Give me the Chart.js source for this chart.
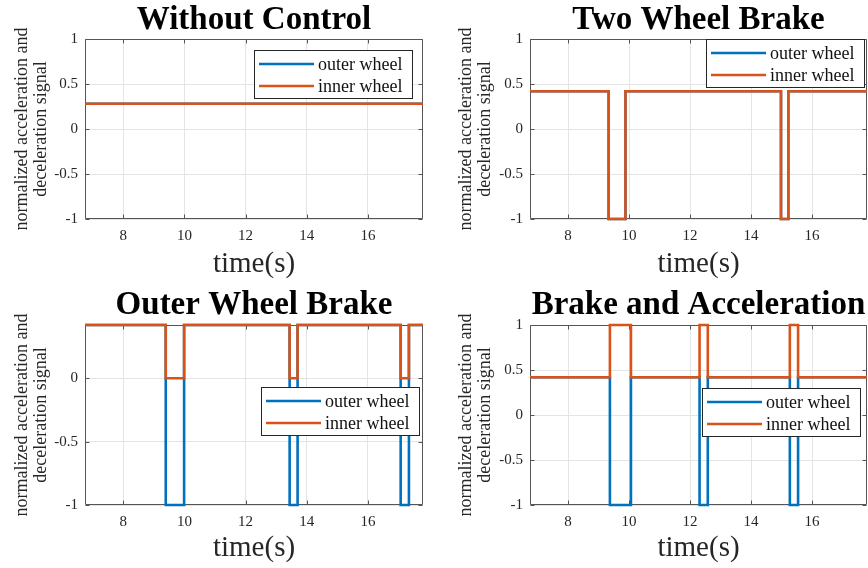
<!DOCTYPE html>
<html>
<head>
<meta charset="utf-8">
<title>Wheel acceleration / deceleration signals</title>
<script src="https://cdn.jsdelivr.net/npm/chart.js@4.4.1/dist/chart.umd.min.js"></script>
<style>
  body { margin: 0; background: #fff; }
  #wrap { position: relative; width: 868px; height: 568px; overflow: hidden; }
  .panel { position: absolute; width: 434px; height: 284px; }
</style>
</head>
<body>
<div id="wrap">
  <div class="panel" style="left:0;top:0"><canvas id="noControl" width="434" height="284"></canvas></div>
  <div class="panel" style="left:434px;top:0"><canvas id="twoBrake" width="434" height="284"></canvas></div>
  <div class="panel" style="left:0;top:284px"><canvas id="outerBrake" width="434" height="284"></canvas></div>
  <div class="panel" style="left:434px;top:284px"><canvas id="brakeAcc" width="434" height="284"></canvas></div>
</div>
<script>
// tick values
const xTicks = [8, 10, 12, 14, 16];
const yTicksFull = [-1, -0.5, 0, 0.5, 1];
const yTicksLow = [-1, -0.5, 0];
const xMin = 6.75, xMax = 17.8;

// switching times (s) and signal level from that time on
const noCtrlTime = [6.75, 17.8];
const noCtrlOuter = [0.28, 0.28];
const noCtrlInner = [0.28, 0.28];

const twoBrakeTime = [6.75, 9.33, 9.88, 14.98, 15.22, 17.8];
const twoBrakeOuter = [0.42, -1, 0.42, -1, 0.42, 0.42];
const twoBrakeInner = [0.42, -1, 0.42, -1, 0.42, 0.42];

const outerBrakeTime = [6.75, 9.39, 9.99, 13.44, 13.70, 17.07, 17.34, 17.8];
const outerBrakeOuter = [0.42, -1, 0.42, -1, 0.42, -1, 0.42, 0.42];
const outerBrakeInner = [0.42, 0, 0.42, 0, 0.42, 0, 0.42, 0.42];

const brakeAccTime = [6.75, 9.37, 10.06, 12.31, 12.58, 15.27, 15.54, 17.8];
const brakeAccOuter = [0.42, -1, 0.42, -1, 0.42, -1, 0.42, 0.42];
const brakeAccInner = [0.42, 1, 0.42, 1, 0.42, 1, 0.42, 0.42];

const BLUE = '#0072BD';
const ORANGE = '#D95319';
const SERIF = "'Liberation Serif', 'Times New Roman', serif";
const INK = '#262626';

function points(times, values) {
  return times.map((t, i) => ({ x: t, y: values[i] }));
}

// box around the axes with small inward tick marks (under the signal lines)
const axesFrame = {
  id: 'axesFrame',
  beforeDatasetsDraw(chart) {
    const { ctx, chartArea: a, scales } = chart;
    const l = Math.round(a.left) + 0.5, r = Math.round(a.right) - 0.5;
    const t = Math.round(a.top) + 0.5, b = Math.round(a.bottom) - 0.5;
    ctx.save();
    ctx.strokeStyle = '#555';
    ctx.lineWidth = 1;
    ctx.beginPath();
    scales.x.ticks.forEach(tk => {
      const px = Math.round(scales.x.getPixelForValue(tk.value)) + 0.5;
      ctx.moveTo(px, b); ctx.lineTo(px, b - 4);
      ctx.moveTo(px, t); ctx.lineTo(px, t + 4);
    });
    scales.y.ticks.forEach(tk => {
      const py = Math.round(scales.y.getPixelForValue(tk.value)) + 0.5;
      ctx.moveTo(l, py); ctx.lineTo(l + 4, py);
      ctx.moveTo(r, py); ctx.lineTo(r - 4, py);
    });
    ctx.rect(l, t, r - l, b - t);
    ctx.stroke();
    ctx.restore();
  }
};

// legend drawn as a framed box inside the plot
const wheelLegend = {
  id: 'wheelLegend',
  afterDraw(chart, args, opts) {
    const { ctx } = chart;
    const x = opts.x, y = opts.y, w = 158, h = 48;
    ctx.save();
    ctx.fillStyle = '#fff';
    ctx.fillRect(x, y, w, h);
    ctx.strokeStyle = INK;
    ctx.lineWidth = 1;
    ctx.strokeRect(x + 0.5, y + 0.5, w, h);
    ctx.font = '18px ' + SERIF;
    ctx.textBaseline = 'middle';
    chart.data.datasets.forEach((ds, i) => {
      const ry = y + 14 + i * 22;
      ctx.strokeStyle = ds.borderColor;
      ctx.lineWidth = 2.6;
      ctx.beginPath();
      ctx.moveTo(x + 5, ry);
      ctx.lineTo(x + 60, ry);
      ctx.stroke();
      ctx.fillStyle = '#111';
      ctx.fillText(ds.label, x + 64, ry + 1);
    });
    ctx.restore();
  }
};

function makeChart(id, cfg) {
  new Chart(document.getElementById(id), {
    type: 'line',
    data: {
      datasets: [
        { label: 'outer wheel', data: points(cfg.time, cfg.outer), borderColor: BLUE, order: 1 },
        { label: 'inner wheel', data: points(cfg.time, cfg.inner), borderColor: ORANGE, order: 0 }
      ]
    },
    options: {
      responsive: false,
      animation: false,
      events: [],
      layout: { padding: { left: 0, right: cfg.padRight, top: 0, bottom: 0 } },
      elements: {
        line: { borderWidth: 2.6, stepped: 'before', tension: 0, fill: false },
        point: { radius: 0 }
      },
      datasets: { line: { clip: 3 } },
      scales: {
        x: {
          type: 'linear',
          min: xMin,
          max: xMax,
          afterBuildTicks: s => { s.ticks = xTicks.map(v => ({ value: v })); },
          afterFit: s => { s.height = cfg.xHeight; },
          grid: { color: '#e4e4e4', drawTicks: false },
          border: { display: false },
          ticks: { padding: 8, color: INK, font: { family: SERIF, size: 15 }, callback: v => String(v) },
          title: {
            display: true,
            text: 'time(s)',
            color: INK,
            font: { family: SERIF, size: 29, lineHeight: 1 },
            padding: { top: 0, bottom: 5 }
          }
        },
        y: {
          min: -1,
          max: cfg.yMax,
          afterBuildTicks: s => { s.ticks = cfg.yTicks.map(v => ({ value: v })); },
          afterFit: s => { s.width = cfg.yWidth; },
          grid: { color: '#e4e4e4', drawTicks: false },
          border: { display: false },
          ticks: { padding: 7, color: INK, font: { family: SERIF, size: 15 }, callback: v => String(v) },
          title: {
            display: true,
            text: ['normalized acceleration and', 'deceleration signal'],
            color: INK,
            font: { family: SERIF, size: 18, lineHeight: 1.1 },
            padding: { top: cfg.yTitlePad, bottom: 0 }
          }
        }
      },
      plugins: {
        legend: { display: false },
        tooltip: { enabled: false },
        title: {
          display: true,
          fullSize: false,
          text: cfg.title,
          color: '#000',
          font: { family: SERIF, size: 33, weight: 'bold', lineHeight: 1 },
          padding: cfg.titlePad
        },
        wheelLegend: cfg.legend
      }
    },
    plugins: [axesFrame, wheelLegend]
  });
}

makeChart('noControl', {
  title: 'Without Control', time: noCtrlTime, outer: noCtrlOuter, inner: noCtrlInner,
  yMax: 1, yTicks: yTicksFull, yWidth: 85, padRight: 11, xHeight: 65, yTitlePad: 12,
  titlePad: { top: 4, bottom: 2 }, legend: { x: 254, y: 50 }
});
makeChart('twoBrake', {
  title: 'Two Wheel Brake', time: twoBrakeTime, outer: twoBrakeOuter, inner: twoBrakeInner,
  yMax: 1, yTicks: yTicksFull, yWidth: 96, padRight: 1, xHeight: 65, yTitlePad: 22,
  titlePad: { top: 4, bottom: 2 }, legend: { x: 272, y: 39 }
});
makeChart('outerBrake', {
  title: 'Outer Wheel Brake', time: outerBrakeTime, outer: outerBrakeOuter, inner: outerBrakeInner,
  yMax: 0.42, yTicks: yTicksLow, yWidth: 85, padRight: 11, xHeight: 63, yTitlePad: 12,
  titlePad: { top: 5, bottom: 3 }, legend: { x: 261, y: 103 }
});
makeChart('brakeAcc', {
  title: 'Brake and Acceleration', time: brakeAccTime, outer: brakeAccOuter, inner: brakeAccInner,
  yMax: 1, yTicks: yTicksFull, yWidth: 96, padRight: 1, xHeight: 63, yTitlePad: 22,
  titlePad: { top: 5, bottom: 3 }, legend: { x: 268, y: 104 }
});
</script>
</body>
</html>
